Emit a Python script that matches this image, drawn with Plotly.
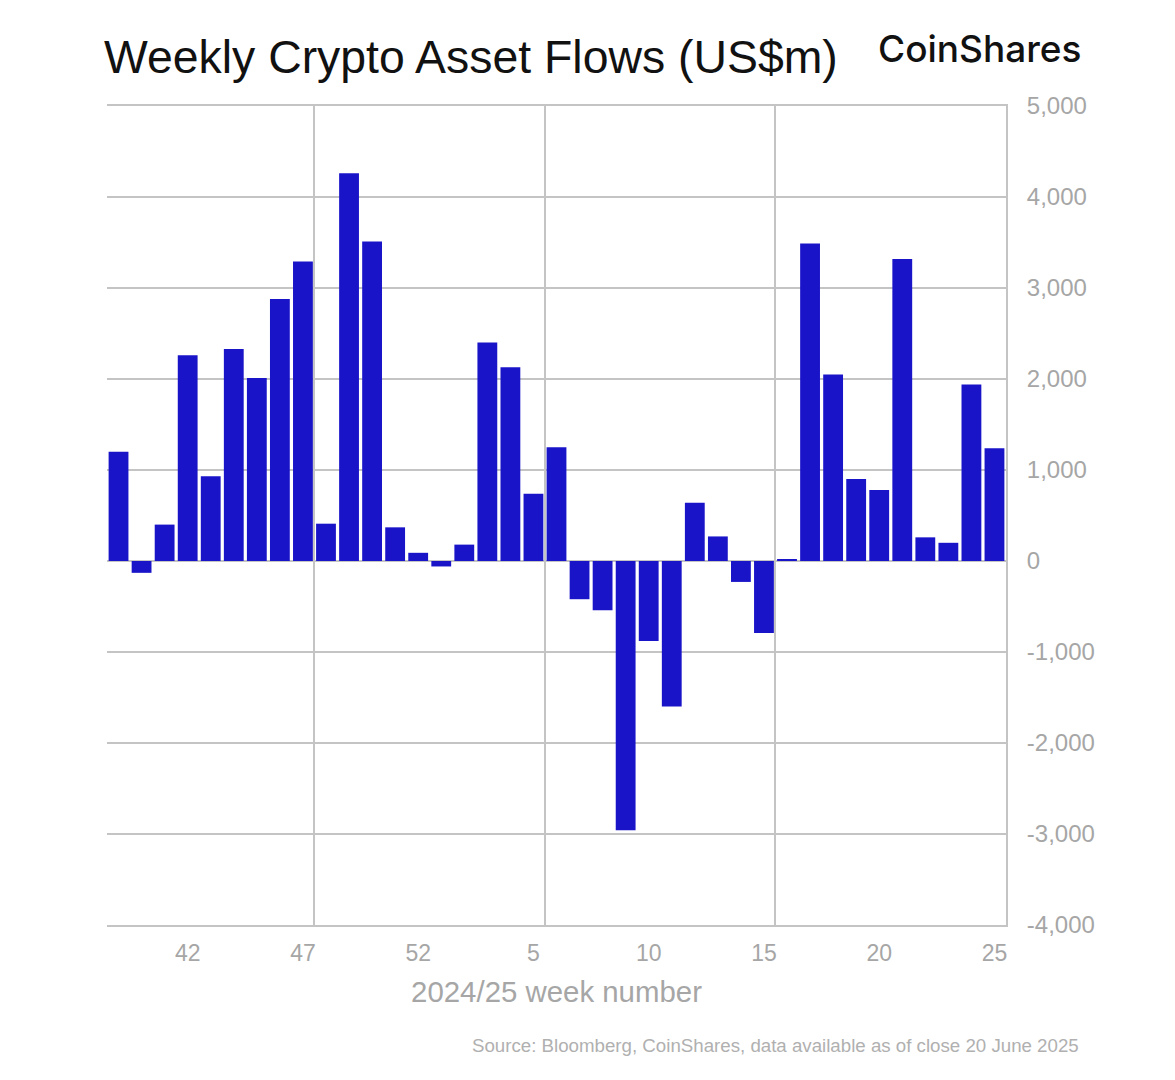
import plotly.graph_objects as go

weeks = [39, 40, 41, 42, 43, 44, 45, 46, 47, 48, 49, 50, 51, 52,
         1, 2, 3, 4, 5, 6, 7, 8, 9, 10, 11, 12, 13, 14, 15, 16, 17, 18, 19, 20, 21, 22, 23, 24, 25]
flows = [1200, -130, 400, 2260, 930, 2330, 2010, 2880, 3290, 410, 4260, 3510, 370, 90,
         -60, 180, 2400, 2130, 740, 1250, -420, -540, -2960, -880, -1600, 640, 270, -230, -790,
         20, 3490, 2050, 900, 780, 3320, 260, 200, 1940, 1240]
shown_weeks = [42, 47, 52, 5, 10, 15, 20, 25]
y_ticks = [5000, 4000, 3000, 2000, 1000, 0, -1000, -2000, -3000, -4000]
y_labels = ["5,000", "4,000", "3,000", "2,000", "1,000", "0", "-1,000", "-2,000", "-3,000", "-4,000"]

GREY = "#a6a6a6"
GRID = "#c4c4c4"
FONT = "Liberation Sans"

x = list(range(len(weeks)))
week_ticks = [weeks.index(w) for w in shown_weeks]

fig = go.Figure(go.Bar(x=x, y=flows, marker_color="#1a14c8", marker_line_width=0, width=0.86))

fig.update_layout(
    width=1159,
    height=1064,
    margin=dict(l=99, r=161, t=98, b=147),
    paper_bgcolor="white",
    plot_bgcolor="white",
    showlegend=False,
    font=dict(family=FONT, color=GREY),
)
fig.update_xaxes(
    range=[-0.5, len(weeks) - 0.5],
    tickmode="array",
    tickvals=week_ticks,
    ticktext=[str(w) for w in shown_weeks],
    tickfont_size=23,
    ticks="outside",
    ticklen=6,
    tickcolor="rgba(0,0,0,0)",
    showgrid=False,
    zeroline=False,
    showline=True,
    mirror=True,
    linecolor=GRID,
    linewidth=2,
    minor=dict(tickmode="array", tickvals=[8.5, 18.5, 28.5], showgrid=True,
               gridcolor=GRID, gridwidth=2, ticks=""),
    title=dict(text="2024/25 week number", font=dict(size=29.4, color=GREY), standoff=17),
)
fig.update_yaxes(
    side="right",
    range=[-4000, 5000],
    tickmode="array",
    tickvals=y_ticks,
    ticktext=y_labels,
    tickfont_size=24,
    ticks="outside",
    ticklen=14,
    tickcolor="rgba(0,0,0,0)",
    gridcolor=GRID,
    gridwidth=2,
    zeroline=True,
    zerolinecolor=GRID,
    zerolinewidth=2,
    showline=True,
    linecolor=GRID,
    linewidth=2,
)
fig.update_layout(
    annotations=[
        dict(text="Weekly Crypto Asset Flows (US$m)", x=94, y=1064 - 49, xref="paper", yref="paper",
             showarrow=False, xanchor="left", yanchor="middle",
             font=dict(family=FONT, size=46.4, color="#111111")),
        dict(text="CoinShares", x=1076, y=1064 - 40, xref="paper", yref="paper",
             showarrow=False, xanchor="right", yanchor="middle",
             font=dict(family="Inter", size=37, weight=500, color="#111111")),
        dict(text="Source: Bloomberg, CoinShares, data available as of close 20 June 2025",
             x=1073, y=1064 - 1037, xref="paper", yref="paper",
             showarrow=False, xanchor="right", yanchor="middle",
             font=dict(family=FONT, size=18.7, color="#b0b0b0")),
    ]
)
# annotation positions above are in pixels, convert them to paper fractions
plot_w = 1159 - 99 - 161
plot_h = 1064 - 98 - 147
for a in fig.layout.annotations:
    a.x = (a.x - 99) / plot_w
    a.y = (a.y - 147) / plot_h

fig.write_html("out.html")
